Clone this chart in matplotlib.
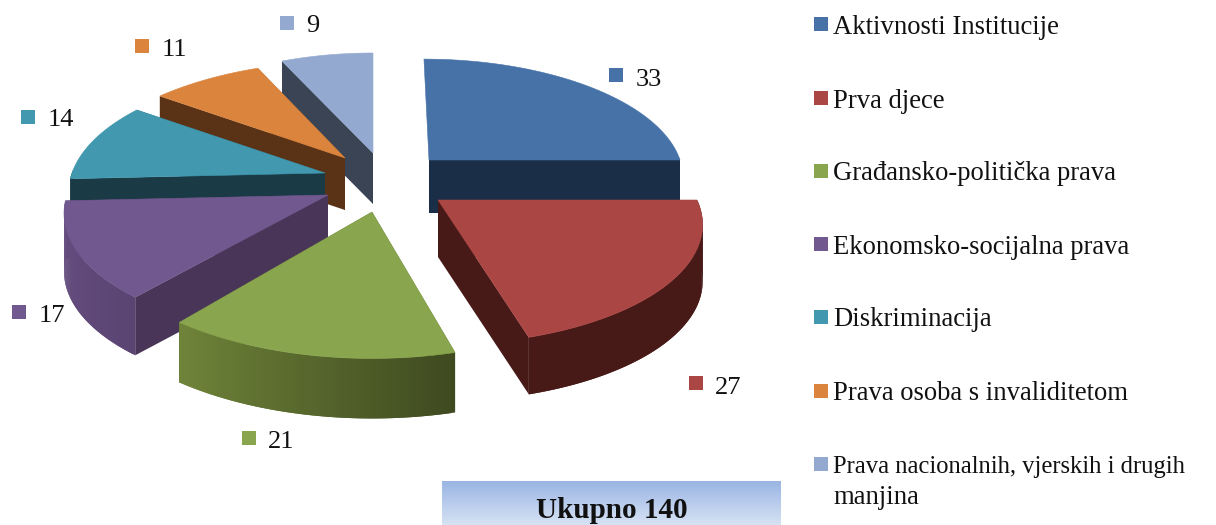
import numpy as np
import matplotlib
matplotlib.use("Agg")
import matplotlib.pyplot as plt
from matplotlib.colors import to_rgb
from matplotlib.patches import Polygon, Rectangle

plt.rcParams["font.family"] = ["Liberation Serif", "DejaVu Serif"]

# data
categories = ["Aktivnosti Institucije", "Prva djece", "Građansko-politička prava",
              "Ekonomsko-socijalna prava", "Diskriminacija", "Prava osoba s invaliditetom",
              "Prava nacionalnih, vjerskih i drugih\nmanjina"]
values = [33, 27, 21, 17, 14, 11, 9]
total_label = "Ukupno 140"

# colours
top_colors = ["#4672a8", "#aa4644", "#89a54e", "#71588f", "#4198af", "#db843d", "#93a9cf"]
side_colors = ["#1b2e47", "#471a18", "#3f4a20", "#483558", "#1a3a46", "#5a3316", "#3a4454"]
curve_start = ["#1b2e47", "#471a18", "#3f4a20", "#5a4472", "#1a3a46", "#5a3316", "#3a4454"]
curve_end = ["#1b2e47", "#471a18", "#6f8439", "#6a5285", "#1a3a46", "#5a3316", "#3a4454"]

# geometry of the exploded slices, in pixels
apex_x = [429, 438, 372, 328, 325, 345, 373]
apex_y = [160, 200, 212, 195, 173, 158, 153]
radius_x = [251, 259, 292, 261, 253, 266, 245]
radius_y = [114, 115, 145, 120, 119, 125, 113]
persp = [0.13, 0.205, 0.01, 0.15, 0.164, 0.293, 0.13]
shear = [0.05, 0, 0, 0, 0, 0, 0]
depth = [53, 57, 60, 58, 52, 52, 51]
draw_order = [6, 5, 4, 3, 0, 1, 2]

# label positions
square_pos = [(609, 68), (689, 376), (242, 431), (12, 305), (21, 110), (135, 39), (280, 16)]
number_pos = [(636, 78), (715, 385), (268, 440), (39, 313), (48, 118), (162, 47), (306, 24)]
legend_y = [24, 98, 171, 244, 317, 391, 464]


def rim(i, theta):
    s = 1.0 / (1.0 + persp[i] * np.cos(theta))
    dy = radius_y[i] * np.cos(theta) * s
    x = apex_x[i] + radius_x[i] * np.sin(theta) * s - shear[i] * dy
    y = apex_y[i] - dy
    return x, y


def draw_slice(ax, i, t0, t1):
    theta = np.linspace(t0, t1, 80)
    x, y = rim(i, theta)
    h = depth[i]
    ax_pt = (apex_x[i], apex_y[i])

    # walls along the two cuts (the cut at 12 o'clock faces away)
    for tt in (t0, t1):
        if tt == 0:
            continue
        rx, ry = rim(i, tt)
        quad = [ax_pt, (rx, ry), (rx, ry + h), (ax_pt[0], ax_pt[1] + h)]
        ax.add_patch(Polygon(quad, closed=True, fc=side_colors[i], ec="none"))

    # outer wall, shaded in small strips that overlap so no seams show
    c0 = np.array(to_rgb(curve_start[i]))
    c1 = np.array(to_rgb(curve_end[i]))
    for k in range(len(theta) - 1):
        mid = 0.5 * (theta[k] + theta[k + 1])
        if np.cos(mid) > 0.02:
            continue
        col = c0 + (c1 - c0) * k / (len(theta) - 2)
        j = min(k + 2, len(theta) - 1)
        quad = [(x[k], y[k]), (x[j], y[j]), (x[j], y[j] + h), (x[k], y[k] + h)]
        ax.add_patch(Polygon(quad, closed=True, fc=col, ec="none"))

    # top face
    pts = np.column_stack([np.r_[ax_pt[0], x], np.r_[ax_pt[1], y]])
    ax.add_patch(Polygon(pts, closed=True, fc=top_colors[i], ec=top_colors[i], lw=0.4))


fig = plt.figure(figsize=(12.16, 5.25), dpi=100)
ax = fig.add_axes([0, 0, 1, 1])

# slices, clockwise from 12 o'clock
edges = np.r_[0, np.cumsum(values)] / sum(values) * 2 * np.pi
for i in draw_order:
    draw_slice(ax, i, edges[i], edges[i + 1])

# value labels
for i, v in enumerate(values):
    ax.add_patch(Rectangle(square_pos[i], 14, 14, fc=top_colors[i], ec="none"))
    ax.text(number_pos[i][0], number_pos[i][1] + 2.5, str(v), fontsize=19, va="center", ha="left", color="#111111")

# legend
for i, name in enumerate(categories):
    ax.add_patch(Rectangle((814, legend_y[i] - 7), 14, 14, fc=top_colors[i], ec="none"))
    lines = name.split("\n")
    # the wrapped entry has its first line squeezed a bit in the original
    first_size = 17.7 if len(lines) > 1 else 19.2
    first_y = legend_y[i] + (8.5 if len(lines) > 1 else 9.5)
    ax.text(833, first_y, lines[0], fontsize=first_size, va="baseline", ha="left", color="#111111")
    if len(lines) > 1:
        ax.text(833, legend_y[i] + 39.5, lines[1], fontsize=19.2, va="baseline", ha="left", color="#111111")

# total box with vertical gradient
grad = np.linspace(0, 1, 64)[:, None, None]
grad = np.array(to_rgb("#9ab5e3")) * (1 - grad) + np.array(to_rgb("#d6e2f4")) * grad
ax.imshow(grad, extent=(442, 781, 525, 481), aspect="auto", zorder=2)
ax.text(612, 511, total_label, fontsize=21, fontweight="bold", ha="center", va="center", color="#111111", zorder=3)

ax.set_xlim(0, 1216)
ax.set_ylim(525, 0)
ax.axis("off")

fig.savefig("out.png", dpi=100)
